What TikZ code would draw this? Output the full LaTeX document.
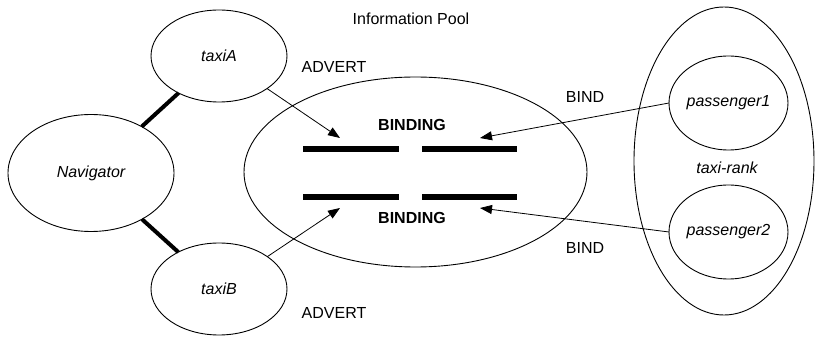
\documentclass[tikz,border=0pt]{standalone}
\usepackage{fontspec}
\setmainfont{Liberation Sans}
\usetikzlibrary{shapes.geometric,arrows.meta}
\begin{document}
\begin{tikzpicture}[x=1pt,y=-1pt,
  every node/.style={font=\fontsize{16}{19}\selectfont},
  oval/.style={draw,ellipse,line width=0.9pt,inner sep=0pt,outer sep=0pt,font=\fontsize{16}{19}\selectfont\itshape},
  lbl/.style={inner sep=0pt},
  bar/.style={line width=6pt},
  thick link/.style={line width=4pt},
  msg/.style={line width=0.8pt,-{Triangle[length=12pt,width=9pt]}}]
\useasboundingbox (0,0) rectangle (815,339);
% ellipses
\node[oval,minimum width=343pt,minimum height=190pt] (pool) at (415.5,172) {};
\node[oval,minimum width=180pt,minimum height=308pt] (rank) at (724,161) {};
\node[lbl,font=\fontsize{16}{19}\selectfont\itshape] (ranklbl) at (727,168) {taxi-rank};
\node[oval,minimum width=136pt,minimum height=92pt] (taxiA) at (219,56) {taxiA};
\node[oval,minimum width=136pt,minimum height=92pt] (taxiB) at (219,289) {taxiB};
\node[oval,minimum width=166pt,minimum height=117pt] (nav) at (91,173) {Navigator};
\node[oval,minimum width=119pt,minimum height=94pt,fill=white] (p1) at (728.5,103) {passenger1};
\node[oval,minimum width=119pt,minimum height=94pt,fill=white] (p2) at (728.5,232) {passenger2};
% labels
\node[lbl] (info) at (411,19) {Information Pool};
\node[lbl] (advA) at (334,67) {ADVERT};
\node[lbl] (advB) at (334,313) {ADVERT};
\node[lbl] (bindA) at (585,97) {BIND};
\node[lbl] (bindB) at (585,248) {BIND};
\node[lbl,font=\fontsize{16}{19}\selectfont\bfseries] (bindingA) at (412,125) {BINDING};
\node[lbl,font=\fontsize{16}{19}\selectfont\bfseries] (bindingB) at (412,218) {BINDING};
% bars
\coordinate (b1s) at (303,149); \coordinate (b1e) at (399,149);
\coordinate (b2s) at (422,149); \coordinate (b2e) at (517,149);
\coordinate (b3s) at (303,197); \coordinate (b3e) at (399,197);
\coordinate (b4s) at (422,197); \coordinate (b4e) at (517,197);
\draw[bar] (b1s) -- (b1e);
\draw[bar] (b2s) -- (b2e);
\draw[bar] (b3s) -- (b3e);
\draw[bar] (b4s) -- (b4e);
% thick links
\draw[thick link] (nav) -- (taxiA);
\draw[thick link] (nav) -- (taxiB);
% arrows
\coordinate (tA) at (340,138);
\coordinate (tB) at (340,208);
\coordinate (t1) at (480,138);
\coordinate (t2) at (480,208);
\draw[msg] (taxiA) -- (tA);
\draw[msg] (taxiB) -- (tB);
\draw[msg] (p1.west) -- (t1);
\draw[msg] (p2.west) -- (t2);
\end{tikzpicture}
\end{document}
